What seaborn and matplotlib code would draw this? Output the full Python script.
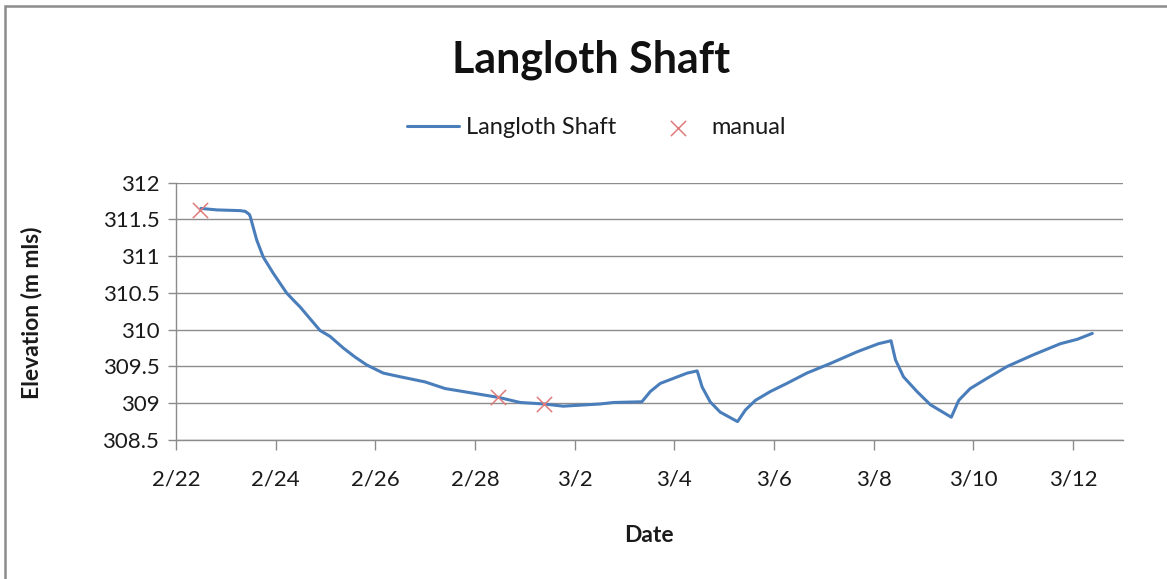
import pandas as pd
import numpy as np
import matplotlib
matplotlib.use("Agg")
import matplotlib.pyplot as plt
import seaborn as sns
from matplotlib.patches import Rectangle

# days after 2/22 00:00 and elevation (m mls)
days = [0.50, 0.82, 1.29, 1.39, 1.47, 1.49, 1.62, 1.75, 1.95, 2.09, 2.22, 2.36,
        2.49, 2.69, 2.89, 3.09, 3.36, 3.59, 3.83, 4.16, 4.50, 5.00, 5.40, 6.20,
        6.47, 6.91, 7.39, 7.77, 8.51, 8.78, 9.35, 9.52, 9.72, 9.99, 10.26, 10.46,
        10.56, 10.72, 10.92, 11.27, 11.43, 11.63, 11.93, 12.26, 12.66, 13.13,
        13.67, 14.10, 14.35, 14.44, 14.60, 14.87, 15.14, 15.56, 15.71, 15.94,
        16.28, 16.68, 17.21, 17.75, 18.09, 18.39]
elev = [311.65, 311.63, 311.62, 311.61, 311.57, 311.54, 311.22, 310.99, 310.77,
        310.63, 310.50, 310.40, 310.31, 310.15, 309.99, 309.91, 309.75, 309.63,
        309.52, 309.41, 309.36, 309.29, 309.20, 309.11, 309.08, 309.01, 308.99,
        308.96, 308.99, 309.01, 309.02, 309.16, 309.27, 309.34, 309.41, 309.44,
        309.22, 309.02, 308.88, 308.75, 308.91, 309.04, 309.16, 309.27, 309.41,
        309.54, 309.70, 309.81, 309.85, 309.59, 309.36, 309.16, 308.98, 308.81,
        309.04, 309.20, 309.34, 309.50, 309.66, 309.81, 309.87, 309.95]

manual_days = [0.48, 6.47, 7.39]
manual_elev = [311.63, 309.08, 308.99]

tick_labels = ["2/22", "2/24", "2/26", "2/28", "3/2", "3/4", "3/6", "3/8", "3/10", "3/12"]

start = pd.Timestamp("2010-02-22")
df = pd.DataFrame({"date": start + pd.to_timedelta(days, unit="D"), "elev": elev})
man = pd.DataFrame({"date": start + pd.to_timedelta(manual_days, unit="D"), "elev": manual_elev})

sns.set_style("white")
plt.rcParams["font.family"] = ["Lato", "DejaVu Sans"]

W, H = 1167, 579
fig = plt.figure(figsize=(W / 100, H / 100), dpi=100)
ax = fig.add_axes([176 / W, 1 - 440 / H, (1122.7 - 176) / W, (440 - 182.7) / H])

sns.lineplot(data=df, x="date", y="elev", ax=ax, color="#4a7ebb", linewidth=2.2,
             label="Langloth Shaft")
sns.scatterplot(data=man, x="date", y="elev", ax=ax, marker="x", color="#e07b7b",
                s=120, linewidth=1.1, label="manual", zorder=5)

grid_c = "#8c8c8c"
ax.set_ylim(308.5, 312)
ax.set_yticks(np.arange(308.5, 312.01, 0.5))
ax.set_yticklabels(["308.5", "309", "309.5", "310", "310.5", "311", "311.5", "312"])
ax.set_xlim(start, start + pd.Timedelta(days=19))
ax.set_xticks(start + pd.to_timedelta(np.arange(0, 19, 2), unit="D"))
ax.set_xticklabels(tick_labels)
ax.yaxis.grid(True, color=grid_c, linewidth=1)
ax.xaxis.grid(False)
for s in ["top", "right"]:
    ax.spines[s].set_visible(False)
for s in ["left", "bottom"]:
    ax.spines[s].set_color(grid_c)
    ax.spines[s].set_linewidth(1)
ax.tick_params(axis="x", direction="out", length=7, width=1, color=grid_c,
               labelsize=16, pad=14, labelcolor="#1a1a1a", bottom=True)
ax.tick_params(axis="y", direction="out", length=6, width=1, color=grid_c,
               labelsize=16, pad=6, labelcolor="#1a1a1a", left=True)
ax.set_xlabel("")
ax.set_ylabel("")

fig.text(32 / W, 1 - 313 / H, "Elevation (m mls)", rotation=90, ha="center",
         va="center", fontsize=16.5, fontweight="bold", color="#1a1a1a")
fig.text(648.5 / W, 1 - 536 / H, "Date", ha="center", va="center",
         fontsize=16.5, fontweight="bold", color="#1a1a1a")

handles, labels = ax.get_legend_handles_labels()
ax.get_legend().remove()
fig.legend(handles, labels, loc="center", bbox_to_anchor=(596.5 / W, 1 - 128 / H),
           ncol=2, frameon=False, fontsize=17, columnspacing=1.5, handlelength=2.2,
           handletextpad=0.3, labelcolor="#1a1a1a")

fig.text(591 / W, 1 - 60 / H, "Langloth Shaft", ha="center", va="center",
         fontsize=31, fontweight="bold", color="#111111")

fig.patches.append(Rectangle((5 / W, -0.05), 1.1, 1 - 6 / H + 0.05,
                             transform=fig.transFigure, fill=False,
                             edgecolor="#8c8c8c", linewidth=1.8))

fig.savefig("out.png", dpi=100)
